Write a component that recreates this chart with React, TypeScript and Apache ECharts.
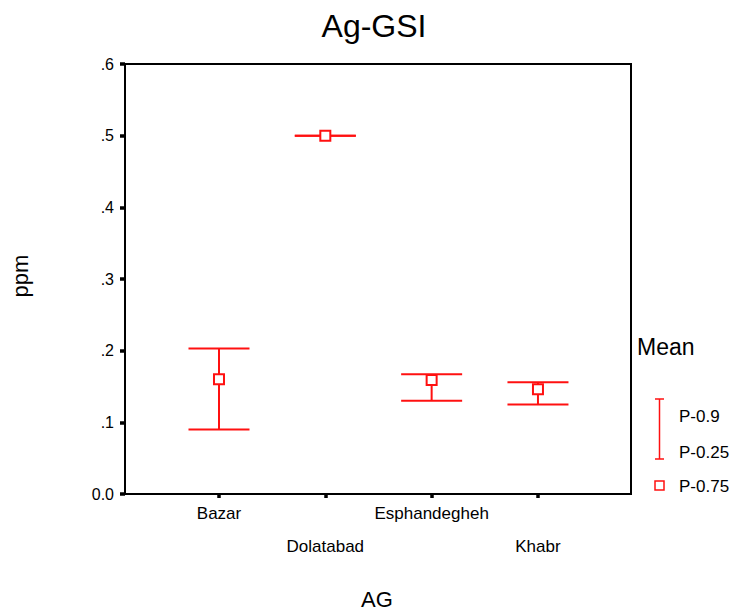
import React, { useEffect, useRef } from "react";
import * as echarts from "echarts";

const categories = ["Bazar", "Dolatabad", "Esphandegheh", "Khabr"];
const p90 = [0.203, 0.5, 0.167, 0.156];
const p25 = [0.09, 0.5, 0.13, 0.125];
const p75 = [0.16, 0.5, 0.159, 0.146];
const yTicks = [0, 0.1, 0.2, 0.3, 0.4, 0.5, 0.6];
const yTickLabels = ["0.0", ".1", ".2", ".3", ".4", ".5", ".6"];

const FONT = "'Liberation Sans', Arial, sans-serif";
const RED = "#ff1010";

export default function App() {
  const ref = useRef<HTMLDivElement>(null);
  useEffect(() => {
    if (!ref.current) return;
    const chart = echarts.init(ref.current, undefined, { renderer: "svg" });
    const xPos = categories.map((_, i) => i + 1);
    const barData = categories.map((_, i) => [xPos[i], p90[i], p25[i]]);
    const boxData = categories.map((_, i) => [xPos[i], p75[i]]);

    chart.setOption({
      animation: false,
      textStyle: { fontFamily: FONT },
      grid: {
        left: 125,
        right: 103,
        top: 64,
        bottom: 118,
        show: true,
        borderColor: "#000",
        borderWidth: 2,
        backgroundColor: "transparent",
      },
      xAxis: {
        type: "value",
        min: 0.116,
        max: 4.875,
        splitLine: { show: false },
        axisLine: { show: true, lineStyle: { color: "#000", width: 2 } },
        axisTick: {
          show: true,
          customValues: xPos,
          length: 4,
          lineStyle: { color: "#000", width: 3.5 },
        },
        axisLabel: {
          customValues: xPos,
          color: "#000",
          fontSize: 17,
          fontFamily: FONT,
          margin: 3,
          lineHeight: 33,
          formatter: (v: number) => {
            const i = Math.round(v) - 1;
            const name = categories[i] ?? "";
            return i % 2 === 1 ? "\n" + name : name;
          },
        },
      },
      yAxis: {
        type: "value",
        min: 0,
        max: 0.6,
        interval: 0.1,
        splitLine: { show: false },
        axisLine: { show: true, lineStyle: { color: "#000", width: 2 } },
        axisTick: {
          show: true,
          inside: false,
          length: 5,
          lineStyle: { color: "#000", width: 3.5 },
        },
        axisLabel: {
          color: "#000",
          fontSize: 16,
          fontFamily: FONT,
          margin: 11,
          formatter: (v: number) => {
            const idx = yTicks.findIndex((t) => Math.abs(t - v) < 1e-6);
            return idx >= 0 ? yTickLabels[idx] : "";
          },
        },
      },
      series: [
        {
          type: "custom",
          data: barData,
          z: 2,
          renderItem: (params: any, api: any) => {
            const x = api.value(0);
            const hi = api.coord([x, api.value(1)]);
            const lo = api.coord([x, api.value(2)]);
            const hw = 30.5;
            const style = { stroke: RED, lineWidth: 2 };
            return {
              type: "group",
              children: [
                { type: "line", shape: { x1: hi[0], y1: hi[1], x2: lo[0], y2: lo[1] }, style },
                { type: "line", shape: { x1: hi[0] - hw, y1: hi[1], x2: hi[0] + hw, y2: hi[1] }, style },
                { type: "line", shape: { x1: lo[0] - hw, y1: lo[1], x2: lo[0] + hw, y2: lo[1] }, style },
              ],
            };
          },
        },
        {
          type: "scatter",
          data: boxData,
          z: 3,
          symbol: "rect",
          symbolSize: 10,
          itemStyle: { color: "#fff", borderColor: RED, borderWidth: 2, opacity: 1 },
        },
      ],
      graphic: [
        {
          type: "text",
          x: 374,
          y: 26,
          style: {
            text: "Ag-GSI",
            fontSize: 32,
            fontFamily: FONT,
            fill: "#000",
            align: "center",
            verticalAlign: "middle",
          },
        },
        {
          type: "text",
          x: 20,
          y: 276,
          rotation: Math.PI / 2,
          style: {
            text: "ppm",
            fontSize: 22,
            fontFamily: FONT,
            fill: "#000",
            align: "center",
            verticalAlign: "middle",
          },
        },
        {
          type: "text",
          x: 377,
          y: 599,
          style: {
            text: "AG",
            fontSize: 22,
            fontFamily: FONT,
            fill: "#000",
            align: "center",
            verticalAlign: "middle",
          },
        },
        {
          type: "text",
          x: 637,
          y: 347,
          style: {
            text: "Mean",
            fontSize: 23,
            fontFamily: FONT,
            fill: "#000",
            align: "left",
            verticalAlign: "middle",
          },
        },
        { type: "line", shape: { x1: 659.5, y1: 399, x2: 659.5, y2: 459 }, style: { stroke: RED, lineWidth: 1.5 } },
        { type: "line", shape: { x1: 655, y1: 399, x2: 664, y2: 399 }, style: { stroke: RED, lineWidth: 1.5 } },
        { type: "line", shape: { x1: 655, y1: 459, x2: 664, y2: 459 }, style: { stroke: RED, lineWidth: 1.5 } },
        {
          type: "rect",
          shape: { x: 655, y: 481, width: 9, height: 9 },
          style: { fill: "#fff", stroke: RED, lineWidth: 1.5 },
        },
        {
          type: "text",
          x: 679,
          y: 416,
          style: { text: "P-0.9", fontSize: 17, fontFamily: FONT, fill: "#000", verticalAlign: "middle" },
        },
        {
          type: "text",
          x: 679,
          y: 452,
          style: { text: "P-0.25", fontSize: 17, fontFamily: FONT, fill: "#000", verticalAlign: "middle" },
        },
        {
          type: "text",
          x: 679,
          y: 486,
          style: { text: "P-0.75", fontSize: 17, fontFamily: FONT, fill: "#000", verticalAlign: "middle" },
        },
      ],
    });
    return () => chart.dispose();
  }, []);
  return (
    <div
      ref={ref}
      style={{ position: "fixed", left: 0, top: 0, width: 734, height: 612, background: "#fff" }}
    />
  );
}
